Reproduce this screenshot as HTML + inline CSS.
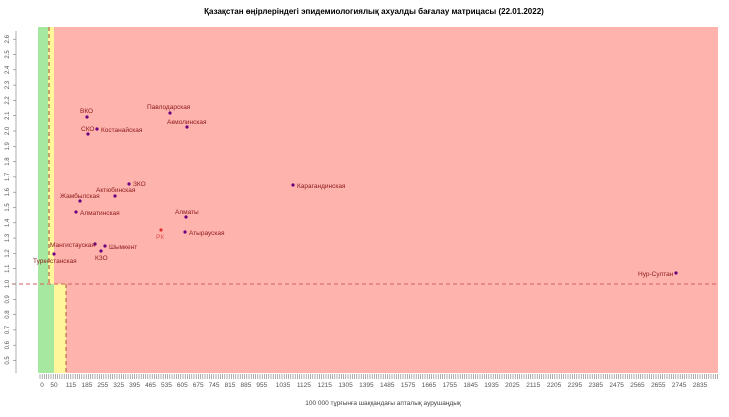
<!DOCTYPE html>
<html><head><meta charset="utf-8"><style>body{margin:0;background:#fff}svg{display:block}text{font-family:"Liberation Sans",sans-serif}</style></head><body>
<svg width="729" height="417" viewBox="0 0 729 417">
<text x="374" y="14" font-size="8" font-weight="bold" text-anchor="middle" fill="#000">Қазақстан өңірлеріндегі эпидемиологиялық ахуалды бағалау матрицасы  (22.01.2022)</text>
<rect x="38" y="27" width="680" height="346" fill="#ffb3ad"/>
<rect x="38" y="27" width="16" height="346" fill="#a6e8a0"/>
<rect x="48" y="27" width="6" height="257" fill="#fff59a"/>
<rect x="38" y="27" width="10" height="257" fill="#a6e8a0"/>
<rect x="54" y="284" width="12" height="89" fill="#fff59a"/>
<line x1="49" y1="27" x2="49" y2="284" stroke="#8a4a3a" stroke-width="1" stroke-dasharray="4,3"/>
<line x1="66" y1="284" x2="66" y2="373" stroke="#b05a3a" stroke-width="1" stroke-dasharray="4,3"/>
<line x1="12" y1="284" x2="718" y2="284" stroke="#d06060" stroke-width="1" stroke-dasharray="4,3"/>
<line x1="16" y1="31" x2="16" y2="373" stroke="#999" stroke-width="0.8"/>
<g id="yt" font-size="6" fill="#555" text-anchor="middle"></g>
<g id="xt" font-size="6.5" fill="#555" text-anchor="middle"></g>
<g id="tk" stroke="#777" stroke-width="0.6"></g>
<g font-size="6.5" fill="#8b1a1a">
<g fill="#6a0080"><circle cx="87" cy="117" r="1.6"/><circle cx="88" cy="134" r="1.6"/><circle cx="97" cy="129" r="1.6"/><circle cx="170" cy="113" r="1.6"/><circle cx="187" cy="127" r="1.6"/><circle cx="129" cy="184" r="1.6"/><circle cx="115" cy="196" r="1.6"/><circle cx="80" cy="201" r="1.6"/><circle cx="76" cy="212" r="1.6"/><circle cx="186" cy="217" r="1.6"/><circle cx="185" cy="232" r="1.6"/><circle cx="95" cy="244" r="1.6"/><circle cx="105" cy="246" r="1.6"/><circle cx="101" cy="251" r="1.6"/><circle cx="54" cy="254" r="1.6"/><circle cx="293" cy="185" r="1.6"/><circle cx="676" cy="273" r="1.6"/></g>
<circle cx="161" cy="230" r="1.6" fill="#e03030"/>
<text x="80" y="113">ВКО</text>
<text x="81" y="131">СКО</text>
<text x="101" y="132">Костанайская</text>
<text x="147" y="109">Павлодарская</text>
<text x="167" y="124">Акмолинская</text>
<text x="133" y="186">ЗКО</text>
<text x="96" y="192">Актюбинская</text>
<text x="60" y="198">Жамбылская</text>
<text x="80" y="215">Алматинская</text>
<text x="175" y="214">Алматы</text>
<text x="156" y="239" fill="#e05050">РК</text>
<text x="189" y="235">Атырауская</text>
<text x="50" y="247">Мангистауская</text>
<text x="109" y="249">Шымкент</text>
<text x="95" y="260">КЗО</text>
<text x="33" y="263">Туркестанская</text>
<text x="297" y="188">Карагандинская</text>
<text x="638" y="276">Нур-Султан</text>
</g>
<text x="383" y="405" font-size="6.5" fill="#444" text-anchor="middle">100 000 тұрғынға шаққандағы апталық аурушаңдық</text>
</svg>
<script>
var ns="http://www.w3.org/2000/svg";
function el(p,t,a,txt){var e=document.createElementNS(ns,t);for(var k in a)e.setAttribute(k,a[k]);if(txt)e.textContent=txt;p.appendChild(e);}
var yt=document.getElementById('yt'),tk=document.getElementById('tk'),xt=document.getElementById('xt');
for(var i=0;i<=21;i++){var v=0.5+i*0.1,y=284+(1-v)*153;el(tk,'line',{x1:13,y1:y,x2:16,y2:y});el(yt,'text',{x:0,y:0,transform:'translate(9,'+y+') rotate(-90)'},v.toFixed(1));}
for(var x=40;x<=718;x+=2.2){el(tk,'line',{x1:x,y1:374,x2:x,y2:379});}
var L=[0,50,115,185,255,325,395,465,535,605,675,745,815,885,955,1035,1125,1215,1305,1395,1485,1575,1665,1755,1845,1935,2025,2115,2205,2295,2385,2475,2565,2655,2745,2835];
for(var j=0;j<L.length;j++){var px=j==0?42:j==1?54:(j<=14?71+(j-2)*15.9:283+(j-15)*20.85);el(xt,'text',{x:px,y:387},String(L[j]));}
</script>
</body></html>
